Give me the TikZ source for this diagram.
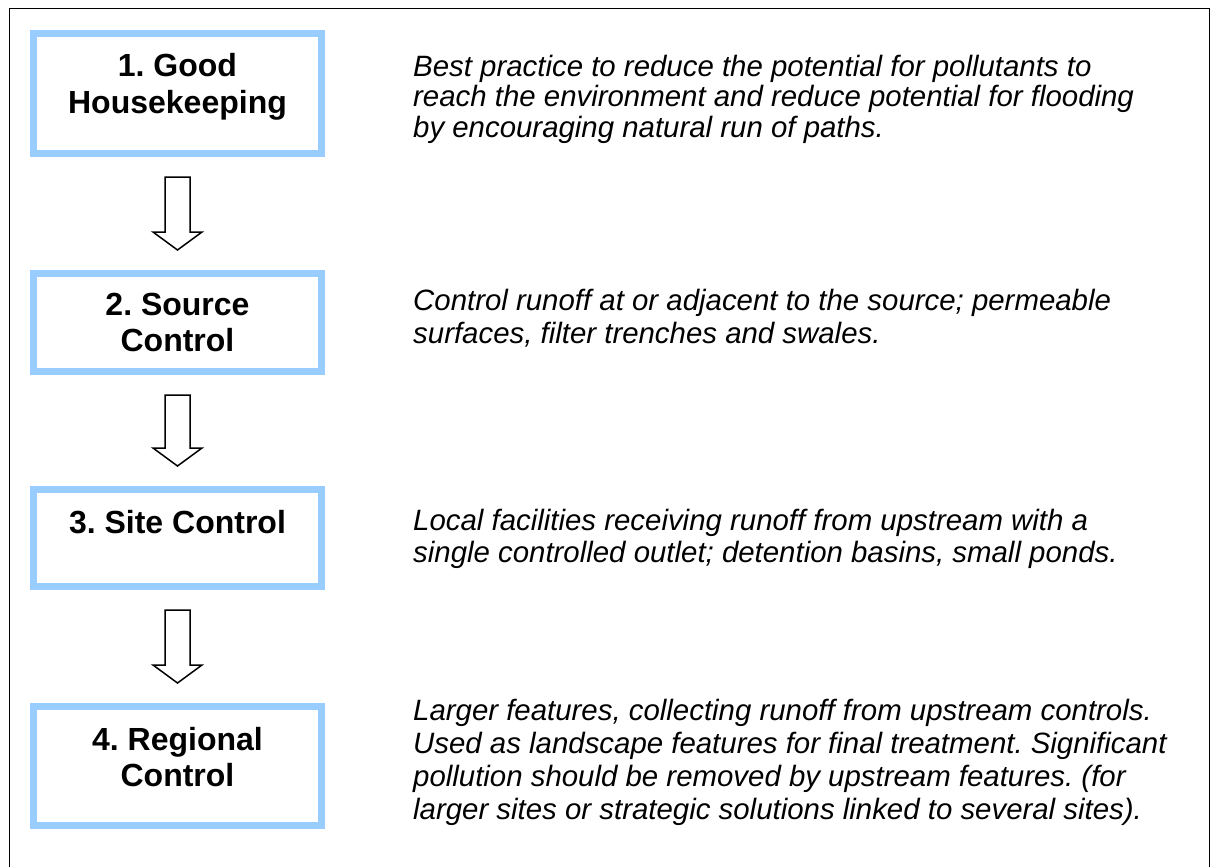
\documentclass[tikz,border=0pt]{standalone}
\usepackage{fontspec}
\setmainfont{Liberation Sans}
\usetikzlibrary{positioning, calc}

\definecolor{boxblue}{RGB}{153,204,255}
\frenchspacing

% hollow block arrow from one box down to the next
\newcommand{\flowarrow}[2]{%
  \draw[hollow] let \p1=(#1.south), \p2=(#2.north) in
    (\x1-12.5pt,\y1-20pt) -- (\x1+12.5pt,\y1-20pt) -- (\x1+12.5pt,\y2+38pt)
    -- (\x1+24.5pt,\y2+38pt) -- (\x1,\y2+20pt) -- (\x1-24.5pt,\y2+38pt)
    -- (\x1-12.5pt,\y2+38pt) -- cycle;}

\begin{document}
\begin{tikzpicture}[
            x=1pt, y=-1pt,
            box/.style={draw=boxblue, line width=7pt, minimum width=288pt},
            boxlabel/.style={font=\bfseries\fontsize{32}{36.5}\selectfont, align=center, anchor=base},
            desc/.style={font=\itshape\fontsize{29.4}{#1}\selectfont, align=left, anchor=base west, inner sep=0pt},
            desc/.default=32,
            hollow/.style={draw=black, line width=1.5pt, fill=white, line join=miter}
            ]
            \useasboundingbox (0,0) rectangle (1210,867);

            % frame
            \draw[line width=1pt] (9,867) -- (9,9) -- (1209,9) -- (1209,867);

            % boxes
            \node[box, minimum height=120pt] (house) at (177.5,93.5) {};
            \node[box, minimum height=98pt, below=113pt of house] (source) {};
            \node[box, minimum height=97pt, below=111pt of source] (site) {};
            \node[box, minimum height=119pt, below=113pt of site] (regional) {};

            % box titles (base = last line)
            \node[boxlabel] (houselabel) at ($(house.north)+(0,83.5)$) {1. Good\\Housekeeping};
            \node[boxlabel] (sourcelabel) at ($(source.north)+(0,81.5)$) {2. Source\\Control};
            \node[boxlabel] (sitelabel) at ($(site.north)+(0,47)$) {3. Site Control};
            \node[boxlabel] (regionallabel) at ($(regional.north)+(0,83.5)$) {4. Regional\\Control};

            % arrows
            \flowarrow{house}{source}
            \flowarrow{source}{site}
            \flowarrow{site}{regional}

            % descriptions (base = last line)
            \node[desc=30.5] (housedesc) at (413,137) {Best practice to reduce the potential for pollutants to\\reach the environment and reduce potential for flooding\\by encouraging natural run of paths.};
            \node[desc=33] (sourcedesc) at (413,343) {Control runoff at or adjacent to the source; permeable\\surfaces, filter trenches and swales.};
            \node[desc] (sitedesc) at (413,562) {Local facilities receiving runoff from upstream with a\\single controlled outlet; detention basins, small ponds.};
            \node[desc=33] (regionaldesc) at (413,819) {Larger features, collecting runoff from upstream controls.\\Used as landscape features for final treatment. Significant\\pollution should be removed by upstream features. (for\\larger sites or strategic solutions linked to several sites).};

        \end{tikzpicture}
\end{document}
